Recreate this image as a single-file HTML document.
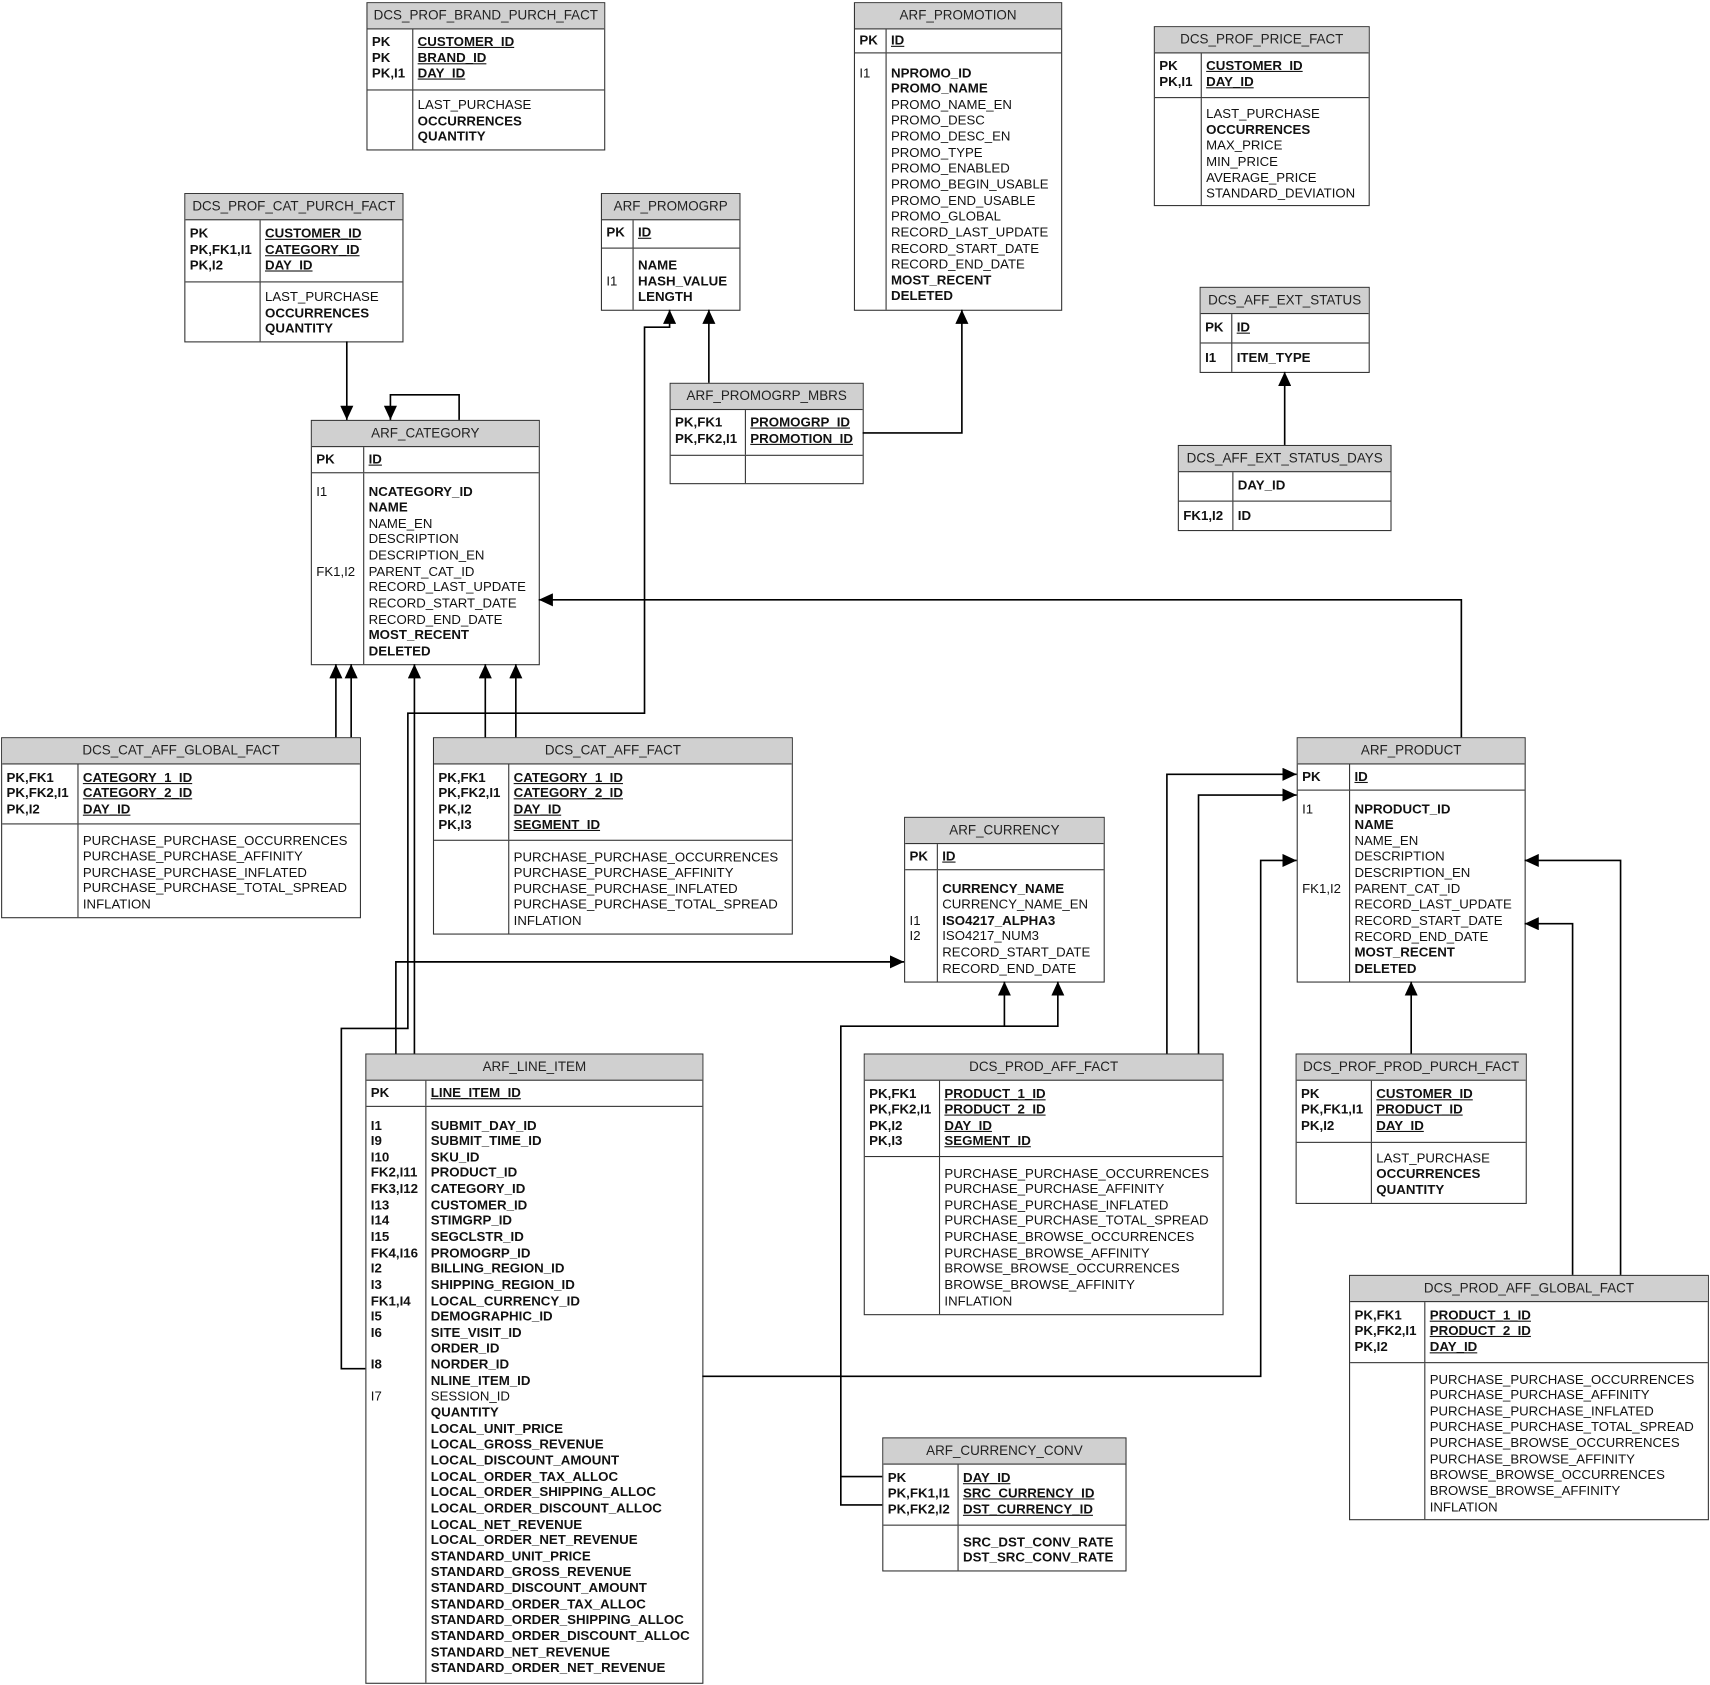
<!DOCTYPE html>
<html><head><meta charset="utf-8"><style>
html,body{margin:0;padding:0;background:#fff;width:1710px;height:1685px;overflow:hidden}
#w{position:absolute;left:0;top:0;width:1568px;height:1545px;transform:scale(1.09056);transform-origin:0 0;font-family:"Liberation Sans",Arial,sans-serif;font-size:12.1px;color:#111}
.t{position:absolute;border:1px solid #333;box-sizing:border-box;background:#fff}
.h{background:#d0d0d0;border-bottom:1px solid #333;text-align:center;height:24px;line-height:23px;color:#222;font-size:12.3px;box-sizing:border-box}
.s{display:flex;box-sizing:border-box;border-bottom:1px solid #333}
.s:last-child{border-bottom:none}
.k{border-right:1px solid #333;box-sizing:border-box;padding-left:4px;font-weight:bold;font-size:12.2px}
.f{padding-left:4px;font-size:12.1px}
.k div,.f div{line-height:14.65px;height:14.65px;white-space:nowrap}
.b{font-weight:bold;font-size:12.2px}
.u{font-weight:bold;font-size:12.2px;text-decoration:underline}
.n{font-weight:normal;font-size:12.1px}
svg{position:absolute;left:0;top:0}
</style></head><body><div id="w">

<div class="t" style="left:336px;top:2px;width:219px;height:136px">
<div class="h">DCS_PROF_BRAND_PURCH_FACT</div>
<div class="s" style="height:56px"><div class="k" style="width:42px;padding-top:4px"><div>PK</div><div>PK</div><div>PK,I1</div></div><div class="f" style="padding-top:4px"><div class="u">CUSTOMER_ID</div><div class="u">BRAND_ID</div><div class="u">DAY_ID</div></div></div>
<div class="s" style="height:54px"><div class="k" style="width:42px"></div><div class="f" style="padding-top:6px"><div>LAST_PURCHASE</div><div class="b">OCCURRENCES</div><div class="b">QUANTITY</div></div></div>
</div>

<div class="t" style="left:783px;top:2px;width:191px;height:283px">
<div class="h">ARF_PROMOTION</div>
<div class="s" style="height:22px"><div class="k" style="width:29px;padding-top:3px"><div>PK</div></div><div class="f" style="padding-top:3px"><div class="u">ID</div></div></div>
<div class="s" style="height:235px"><div class="k" style="width:29px;padding-top:10.5px"><div class="n">I1</div></div><div class="f" style="padding-top:10.5px"><div class="b">NPROMO_ID</div><div class="b">PROMO_NAME</div><div>PROMO_NAME_EN</div><div>PROMO_DESC</div><div>PROMO_DESC_EN</div><div>PROMO_TYPE</div><div>PROMO_ENABLED</div><div>PROMO_BEGIN_USABLE</div><div>PROMO_END_USABLE</div><div>PROMO_GLOBAL</div><div>RECORD_LAST_UPDATE</div><div>RECORD_START_DATE</div><div>RECORD_END_DATE</div><div class="b">MOST_RECENT</div><div class="b">DELETED</div></div></div>
</div>

<div class="t" style="left:1058px;top:24px;width:198px;height:165px">
<div class="h">DCS_PROF_PRICE_FACT</div>
<div class="s" style="height:41px"><div class="k" style="width:43px;padding-top:4px"><div>PK</div><div>PK,I1</div></div><div class="f" style="padding-top:4px"><div class="u">CUSTOMER_ID</div><div class="u">DAY_ID</div></div></div>
<div class="s" style="height:98px"><div class="k" style="width:43px"></div><div class="f" style="padding-top:7px"><div>LAST_PURCHASE</div><div class="b">OCCURRENCES</div><div>MAX_PRICE</div><div>MIN_PRICE</div><div>AVERAGE_PRICE</div><div>STANDARD_DEVIATION</div></div></div>
</div>

<div class="t" style="left:169px;top:177px;width:201px;height:137px">
<div class="h">DCS_PROF_CAT_PURCH_FACT</div>
<div class="s" style="height:57px"><div class="k" style="width:69px;padding-top:5px"><div>PK</div><div>PK,FK1,I1</div><div>PK,I2</div></div><div class="f" style="padding-top:5px"><div class="u">CUSTOMER_ID</div><div class="u">CATEGORY_ID</div><div class="u">DAY_ID</div></div></div>
<div class="s" style="height:54px"><div class="k" style="width:69px"></div><div class="f" style="padding-top:6px"><div>LAST_PURCHASE</div><div class="b">OCCURRENCES</div><div class="b">QUANTITY</div></div></div>
</div>

<div class="t" style="left:551px;top:177px;width:128px;height:108px">
<div class="h">ARF_PROMOGRP</div>
<div class="s" style="height:26px"><div class="k" style="width:29px;padding-top:4px"><div>PK</div></div><div class="f" style="padding-top:4px"><div class="u">ID</div></div></div>
<div class="s" style="height:56px"><div class="k" style="width:29px;padding-top:8px"><div></div><div class="n">I1</div></div><div class="f" style="padding-top:8px"><div class="b">NAME</div><div class="b">HASH_VALUE</div><div class="b">LENGTH</div></div></div>
</div>

<div class="t" style="left:1100px;top:263px;width:156px;height:79px">
<div class="h">DCS_AFF_EXT_STATUS</div>
<div class="s" style="height:27px"><div class="k" style="width:29px;padding-top:5px"><div>PK</div></div><div class="f" style="padding-top:5px"><div class="u">ID</div></div></div>
<div class="s" style="height:26px"><div class="k" style="width:29px;padding-top:6px"><div>I1</div></div><div class="f" style="padding-top:6px"><div class="b">ITEM_TYPE</div></div></div>
</div>

<div class="t" style="left:614px;top:351px;width:178px;height:93px">
<div class="h">ARF_PROMOGRP_MBRS</div>
<div class="s" style="height:42px"><div class="k" style="width:69px;padding-top:4px"><div>PK,FK1</div><div>PK,FK2,I1</div></div><div class="f" style="padding-top:4px"><div class="u">PROMOGRP_ID</div><div class="u">PROMOTION_ID</div></div></div>
<div class="s" style="height:25px"><div class="k" style="width:69px"></div><div class="f"></div></div>
</div>

<div class="t" style="left:285px;top:385px;width:210px;height:225px">
<div class="h">ARF_CATEGORY</div>
<div class="s" style="height:24px"><div class="k" style="width:48px;padding-top:4px"><div>PK</div></div><div class="f" style="padding-top:4px"><div class="u">ID</div></div></div>
<div class="s" style="height:175px"><div class="k" style="width:48px;padding-top:9.5px"><div class="n">I1</div><div></div><div></div><div></div><div></div><div class="n">FK1,I2</div></div><div class="f" style="padding-top:9.5px"><div class="b">NCATEGORY_ID</div><div class="b">NAME</div><div>NAME_EN</div><div>DESCRIPTION</div><div>DESCRIPTION_EN</div><div>PARENT_CAT_ID</div><div>RECORD_LAST_UPDATE</div><div>RECORD_START_DATE</div><div>RECORD_END_DATE</div><div class="b">MOST_RECENT</div><div class="b">DELETED</div></div></div>
</div>

<div class="t" style="left:1080px;top:408px;width:196px;height:79px">
<div class="h">DCS_AFF_EXT_STATUS_DAYS</div>
<div class="s" style="height:27px"><div class="k" style="width:50px"></div><div class="f" style="padding-top:5px"><div class="b">DAY_ID</div></div></div>
<div class="s" style="height:26px"><div class="k" style="width:50px;padding-top:6px"><div>FK1,I2</div></div><div class="f" style="padding-top:6px"><div class="b">ID</div></div></div>
</div>

<div class="t" style="left:1px;top:676px;width:330px;height:166px">
<div class="h">DCS_CAT_AFF_GLOBAL_FACT</div>
<div class="s" style="height:55px"><div class="k" style="width:70px;padding-top:4.5px"><div>PK,FK1</div><div>PK,FK2,I1</div><div>PK,I2</div></div><div class="f" style="padding-top:4.5px"><div class="u">CATEGORY_1_ID</div><div class="u">CATEGORY_2_ID</div><div class="u">DAY_ID</div></div></div>
<div class="s" style="height:85px"><div class="k" style="width:70px"></div><div class="f" style="padding-top:7.5px"><div>PURCHASE_PURCHASE_OCCURRENCES</div><div>PURCHASE_PURCHASE_AFFINITY</div><div>PURCHASE_PURCHASE_INFLATED</div><div>PURCHASE_PURCHASE_TOTAL_SPREAD</div><div>INFLATION</div></div></div>
</div>

<div class="t" style="left:397px;top:676px;width:330px;height:181px">
<div class="h">DCS_CAT_AFF_FACT</div>
<div class="s" style="height:70px"><div class="k" style="width:69px;padding-top:4.5px"><div>PK,FK1</div><div>PK,FK2,I1</div><div>PK,I2</div><div>PK,I3</div></div><div class="f" style="padding-top:4.5px"><div class="u">CATEGORY_1_ID</div><div class="u">CATEGORY_2_ID</div><div class="u">DAY_ID</div><div class="u">SEGMENT_ID</div></div></div>
<div class="s" style="height:85px"><div class="k" style="width:69px"></div><div class="f" style="padding-top:7.5px"><div>PURCHASE_PURCHASE_OCCURRENCES</div><div>PURCHASE_PURCHASE_AFFINITY</div><div>PURCHASE_PURCHASE_INFLATED</div><div>PURCHASE_PURCHASE_TOTAL_SPREAD</div><div>INFLATION</div></div></div>
</div>

<div class="t" style="left:1189px;top:676px;width:210px;height:225px">
<div class="h">ARF_PRODUCT</div>
<div class="s" style="height:24px"><div class="k" style="width:48px;padding-top:4px"><div>PK</div></div><div class="f" style="padding-top:4px"><div class="u">ID</div></div></div>
<div class="s" style="height:175px"><div class="k" style="width:48px;padding-top:9.5px"><div class="n">I1</div><div></div><div></div><div></div><div></div><div class="n">FK1,I2</div></div><div class="f" style="padding-top:9.5px"><div class="b">NPRODUCT_ID</div><div class="b">NAME</div><div>NAME_EN</div><div>DESCRIPTION</div><div>DESCRIPTION_EN</div><div>PARENT_CAT_ID</div><div>RECORD_LAST_UPDATE</div><div>RECORD_START_DATE</div><div>RECORD_END_DATE</div><div class="b">MOST_RECENT</div><div class="b">DELETED</div></div></div>
</div>

<div class="t" style="left:829px;top:749px;width:184px;height:152px">
<div class="h">ARF_CURRENCY</div>
<div class="s" style="height:24px"><div class="k" style="width:30px;padding-top:4px"><div>PK</div></div><div class="f" style="padding-top:4px"><div class="u">ID</div></div></div>
<div class="s" style="height:102px"><div class="k" style="width:30px;padding-top:9.5px"><div></div><div></div><div class="n">I1</div><div class="n">I2</div></div><div class="f" style="padding-top:9.5px"><div class="b">CURRENCY_NAME</div><div>CURRENCY_NAME_EN</div><div class="b">ISO4217_ALPHA3</div><div>ISO4217_NUM3</div><div>RECORD_START_DATE</div><div>RECORD_END_DATE</div></div></div>
</div>

<div class="t" style="left:335px;top:966px;width:310px;height:578px">
<div class="h">ARF_LINE_ITEM</div>
<div class="s" style="height:24px"><div class="k" style="width:55px;padding-top:4px"><div>PK</div></div><div class="f" style="padding-top:4px"><div class="u">LINE_ITEM_ID</div></div></div>
<div class="s" style="height:528px"><div class="k" style="width:55px;padding-top:9.5px"><div>I1</div><div>I9</div><div>I10</div><div>FK2,I11</div><div>FK3,I12</div><div>I13</div><div>I14</div><div>I15</div><div>FK4,I16</div><div>I2</div><div>I3</div><div>FK1,I4</div><div>I5</div><div>I6</div><div></div><div>I8</div><div></div><div class="n">I7</div></div><div class="f" style="padding-top:9.5px"><div class="b">SUBMIT_DAY_ID</div><div class="b">SUBMIT_TIME_ID</div><div class="b">SKU_ID</div><div class="b">PRODUCT_ID</div><div class="b">CATEGORY_ID</div><div class="b">CUSTOMER_ID</div><div class="b">STIMGRP_ID</div><div class="b">SEGCLSTR_ID</div><div class="b">PROMOGRP_ID</div><div class="b">BILLING_REGION_ID</div><div class="b">SHIPPING_REGION_ID</div><div class="b">LOCAL_CURRENCY_ID</div><div class="b">DEMOGRAPHIC_ID</div><div class="b">SITE_VISIT_ID</div><div class="b">ORDER_ID</div><div class="b">NORDER_ID</div><div class="b">NLINE_ITEM_ID</div><div>SESSION_ID</div><div class="b">QUANTITY</div><div class="b">LOCAL_UNIT_PRICE</div><div class="b">LOCAL_GROSS_REVENUE</div><div class="b">LOCAL_DISCOUNT_AMOUNT</div><div class="b">LOCAL_ORDER_TAX_ALLOC</div><div class="b">LOCAL_ORDER_SHIPPING_ALLOC</div><div class="b">LOCAL_ORDER_DISCOUNT_ALLOC</div><div class="b">LOCAL_NET_REVENUE</div><div class="b">LOCAL_ORDER_NET_REVENUE</div><div class="b">STANDARD_UNIT_PRICE</div><div class="b">STANDARD_GROSS_REVENUE</div><div class="b">STANDARD_DISCOUNT_AMOUNT</div><div class="b">STANDARD_ORDER_TAX_ALLOC</div><div class="b">STANDARD_ORDER_SHIPPING_ALLOC</div><div class="b">STANDARD_ORDER_DISCOUNT_ALLOC</div><div class="b">STANDARD_NET_REVENUE</div><div class="b">STANDARD_ORDER_NET_REVENUE</div></div></div>
</div>

<div class="t" style="left:792px;top:966px;width:330px;height:240px">
<div class="h">DCS_PROD_AFF_FACT</div>
<div class="s" style="height:70px"><div class="k" style="width:69px;padding-top:4.5px"><div>PK,FK1</div><div>PK,FK2,I1</div><div>PK,I2</div><div>PK,I3</div></div><div class="f" style="padding-top:4.5px"><div class="u">PRODUCT_1_ID</div><div class="u">PRODUCT_2_ID</div><div class="u">DAY_ID</div><div class="u">SEGMENT_ID</div></div></div>
<div class="s" style="height:144px"><div class="k" style="width:69px"></div><div class="f" style="padding-top:7.5px"><div>PURCHASE_PURCHASE_OCCURRENCES</div><div>PURCHASE_PURCHASE_AFFINITY</div><div>PURCHASE_PURCHASE_INFLATED</div><div>PURCHASE_PURCHASE_TOTAL_SPREAD</div><div>PURCHASE_BROWSE_OCCURRENCES</div><div>PURCHASE_BROWSE_AFFINITY</div><div>BROWSE_BROWSE_OCCURRENCES</div><div>BROWSE_BROWSE_AFFINITY</div><div>INFLATION</div></div></div>
</div>

<div class="t" style="left:1188px;top:966px;width:212px;height:138px">
<div class="h">DCS_PROF_PROD_PURCH_FACT</div>
<div class="s" style="height:57px"><div class="k" style="width:69px;padding-top:4.5px"><div>PK</div><div>PK,FK1,I1</div><div>PK,I2</div></div><div class="f" style="padding-top:4.5px"><div class="u">CUSTOMER_ID</div><div class="u">PRODUCT_ID</div><div class="u">DAY_ID</div></div></div>
<div class="s" style="height:55px"><div class="k" style="width:69px"></div><div class="f" style="padding-top:6.5px"><div>LAST_PURCHASE</div><div class="b">OCCURRENCES</div><div class="b">QUANTITY</div></div></div>
</div>

<div class="t" style="left:1237px;top:1169px;width:330px;height:225px">
<div class="h">DCS_PROD_AFF_GLOBAL_FACT</div>
<div class="s" style="height:56px"><div class="k" style="width:69px;padding-top:4.5px"><div>PK,FK1</div><div>PK,FK2,I1</div><div>PK,I2</div></div><div class="f" style="padding-top:4.5px"><div class="u">PRODUCT_1_ID</div><div class="u">PRODUCT_2_ID</div><div class="u">DAY_ID</div></div></div>
<div class="s" style="height:143px"><div class="k" style="width:69px"></div><div class="f" style="padding-top:7.5px"><div>PURCHASE_PURCHASE_OCCURRENCES</div><div>PURCHASE_PURCHASE_AFFINITY</div><div>PURCHASE_PURCHASE_INFLATED</div><div>PURCHASE_PURCHASE_TOTAL_SPREAD</div><div>PURCHASE_BROWSE_OCCURRENCES</div><div>PURCHASE_BROWSE_AFFINITY</div><div>BROWSE_BROWSE_OCCURRENCES</div><div>BROWSE_BROWSE_AFFINITY</div><div>INFLATION</div></div></div>
</div>

<div class="t" style="left:809px;top:1318px;width:224px;height:123px">
<div class="h">ARF_CURRENCY_CONV</div>
<div class="s" style="height:56px"><div class="k" style="width:69px;padding-top:4.5px"><div>PK</div><div>PK,FK1,I1</div><div>PK,FK2,I2</div></div><div class="f" style="padding-top:4.5px"><div class="u">DAY_ID</div><div class="u">SRC_CURRENCY_ID</div><div class="u">DST_CURRENCY_ID</div></div></div>
<div class="s" style="height:41px"><div class="k" style="width:69px"></div><div class="f" style="padding-top:7.5px"><div class="b">SRC_DST_CONV_RATE</div><div class="b">DST_SRC_CONV_RATE</div></div></div>
</div>

<svg width="1568" height="1545" viewBox="0 0 1568 1545">
<defs><marker id="a" markerUnits="userSpaceOnUse" markerWidth="14" markerHeight="12" refX="13" refY="6" orient="auto"><path d="M0,0 L13,6 L0,12 z" fill="#000"/></marker></defs>
<g fill="none" stroke="#000" stroke-width="1.5" marker-end="url(#a)">
<polyline points="318,313 318,385"/>
<polyline points="421,385 421,362 358,362 358,385"/>
<polyline points="650,351 650,284"/>
<polyline points="791,397 882,397 882,284"/>
<polyline points="1178,408 1178,341"/>
<polyline points="308,676 308,609"/>
<polyline points="322,676 322,609"/>
<polyline points="445,676 445,609"/>
<polyline points="473,676 473,609"/>
<polyline points="380,966 380,609"/>
<polyline points="335,1255 313,1255 313,943 374,943 374,654 591,654 591,300 614,300 614,284"/>
<polyline points="363,966 363,882 829,882"/>
<polyline points="644,1262 1156,1262 1156,789 1189,789"/>
<polyline points="1070,966 1070,710 1189,710"/>
<polyline points="1099,966 1099,729 1189,729"/>
<polyline points="1294,966 1294,900"/>
<polyline points="1486,1169 1486,789 1398,789"/>
<polyline points="1442,1169 1442,847 1398,847"/>
<polyline points="1340,676 1340,550 494,550"/>
<polyline points="809,1354 771,1354 771,941 921,941 921,900"/>
<polyline points="921,941 970,941 970,900"/>
</g>
<polyline points="809,1380 771,1380 771,1354" fill="none" stroke="#000" stroke-width="1.5"/>
</svg>
</div></body></html>
